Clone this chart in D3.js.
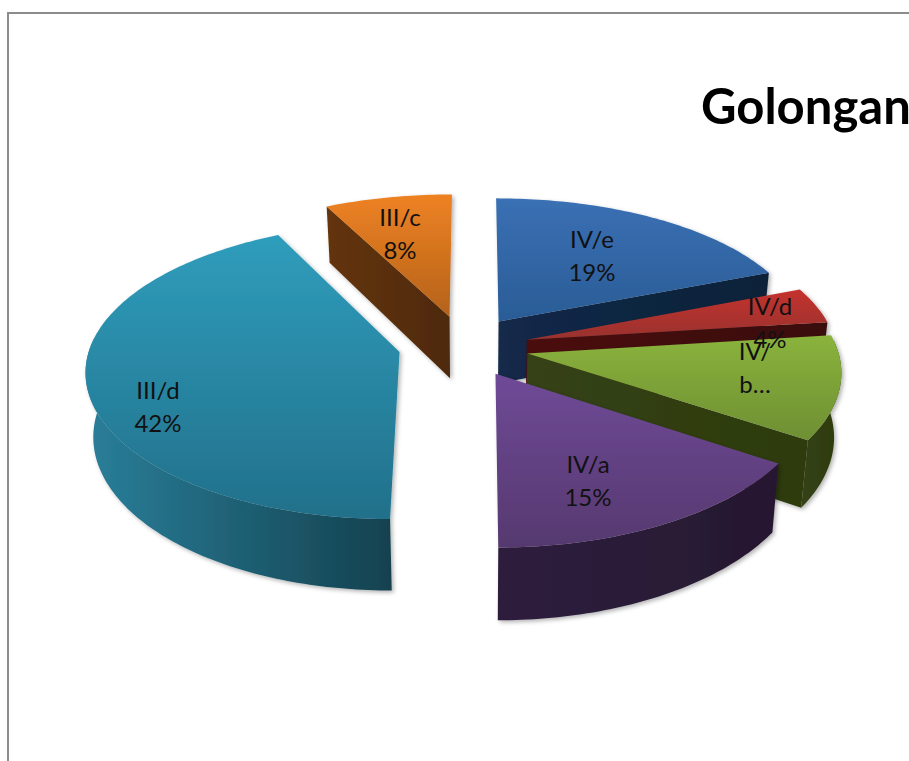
<!DOCTYPE html>
<html><head><meta charset="utf-8">
<script src="https://cdn.jsdelivr.net/npm/d3@7"></script>
<style>html,body{margin:0;padding:0;background:#fff;overflow:hidden}svg{display:block}</style>
</head><body><div id="c"></div>
<script>
const categories = ["III/c","IV/e","IV/d","IV/b","IV/a","III/d"];
const sliceValues = [7.5,19,4,11.3,15.7,42.5];
const labelLines = [["III/c","8%"],["IV/e","19%"],["IV/d","4%"],["IV/","b…"],["IV/a","15%"],["III/d","42%"]];
const titleText = "Golongan";

// presentation
const explosionVectors = [[-21,60],[29,49],[57,9],[57,-20],[25,-62],[-70,-17]];
const topColors = [["#ee8223","#b4621a"],["#3a70b4","#2a5c96"],["#c4322e","#98332f"],["#8ab33c","#6e8f33"],["#6f4a97","#56396f"],["#2f9dbc","#22708a"]];
const wallColors = [["#633409","#4e2a08"],["#12294a","#0f2238"],["#4a100c","#3a0e0a"],["#354213","#2d3a10"],["#2e1f3e","#261830"],["#2a7f9a","#14414f"]];
const labelAnchors = [[400,226],[592,248],[770,315],[755,360],[588,473],[158,399]];
const drawOrder = [1,2,3,4,0,5];

const W=909,H=761, C={x:470,y:344}, Vx=474, Hf=1148, Dx=2750, Dy=2464, R=309, WALL=63, WALL_TAPER=0.98, MIN_WALL_AREA=1000;
const svg=d3.select("#c").append("svg").attr("width",W).attr("height",H);
const defs=svg.append("defs");
const f=defs.append("filter").attr("id","sh").attr("x","-10%").attr("y","-10%").attr("width","120%").attr("height","120%");
f.append("feDropShadow").attr("dx",2).attr("dy",2).attr("stdDeviation",2.2).attr("flood-color","#000").attr("flood-opacity",0.3);

// frame, running off the right and bottom edges
svg.append("rect").attr("x",8).attr("y",13).attr("width",W+40).attr("height",H+40)
  .attr("fill","#fff").attr("stroke","#8c8c8c").attr("stroke-width",2);

const rScale=d3.scaleLinear([0,1],[0,R]);
function project(X,Y,drop){
  const s=1/(1+Y/Dx), sy=1/(1+Y/Dy);
  const x=Vx+(C.x-Vx+X)*s, y=C.y+Hf*(sy-1);
  return drop ? [Vx+(x-Vx)*WALL_TAPER, y+WALL*s] : [x,y];
}
const total=d3.sum(sliceValues);
const startFrac=-sliceValues[0]/total;
const pie=d3.pie().sort(null).value(d=>d).startAngle(2*Math.PI*startFrac).endAngle(2*Math.PI*(1+startFrac));
const arcs=pie(sliceValues);
const line=d3.line();
const STEP=Math.PI/180;

function pointAt(a,apex,rf,drop){
  const r=rScale(rf);
  return project(apex[0]+r*Math.sin(a),apex[1]+r*Math.cos(a),drop);
}
// rim angles, keeping only the part of the rim that faces the viewer
function rimAngles(d){
  const n=Math.max(2,Math.ceil((d.endAngle-d.startAngle)/STEP));
  return d3.range(n+1).map(i=>d.startAngle+(d.endAngle-d.startAngle)*i/n);
}
function grad(id,c,horizontal){
  const g=defs.append("linearGradient").attr("id",id).attr("x1",0).attr("y1",0)
    .attr("x2",horizontal?1:0).attr("y2",horizontal?0:1);
  g.append("stop").attr("offset",0).attr("stop-color",c[0]);
  g.append("stop").attr("offset",1).attr("stop-color",c[1]);
}
drawOrder.forEach(i=>{
  const d=arcs[i], apex=explosionVectors[i];
  grad("t"+i,topColors[i],false); grad("w"+i,wallColors[i],true);
  const g=svg.append("g").attr("class","slice").attr("filter","url(#sh)");
  const wallFill=`url(#w${i})`;
  const quad=(a)=>[pointAt(a,apex,0,false),pointAt(a,apex,1,false),pointAt(a,apex,1,true),pointAt(a,apex,0,true)];
  const qs=quad(d.startAngle), qe=quad(d.endAngle);
  if(d3.polygonArea(qs)>MIN_WALL_AREA) g.append("path").attr("d",line(qs)+"Z").attr("fill",wallFill);
  if(d3.polygonArea(qe)<-MIN_WALL_AREA) g.append("path").attr("d",line(qe)+"Z").attr("fill",wallFill);
  const angles=rimAngles(d);
  const front=angles.filter(a=>Math.cos(a)<0.1);
  if(front.length>1){
    const t=front.map(a=>pointAt(a,apex,1,false)), b=front.map(a=>pointAt(a,apex,1,true));
    g.append("path").attr("d",line(t.concat(b.reverse()))+"Z").attr("fill",wallFill);
  }
  const top=angles.map(a=>pointAt(a,apex,1,false));
  g.append("path").attr("d",line([pointAt(d.startAngle,apex,0,false)].concat(top))+"Z").attr("fill",`url(#t${i})`);
});

labelLines.forEach((ls,i)=>{
  const t=svg.append("text").attr("text-anchor","middle").attr("font-family","Lato, 'Open Sans', sans-serif")
    .attr("font-size",24).attr("fill","#111");
  ls.forEach((s,k)=>t.append("tspan").attr("x",labelAnchors[i][0]).attr("y",labelAnchors[i][1]+k*32.5).text(s));
});
svg.append("text").attr("x",701).attr("y",124).attr("font-family","Lato, sans-serif").attr("font-weight",700)
  .attr("font-size",49).attr("fill","#000").text(titleText);
</script></body></html>
